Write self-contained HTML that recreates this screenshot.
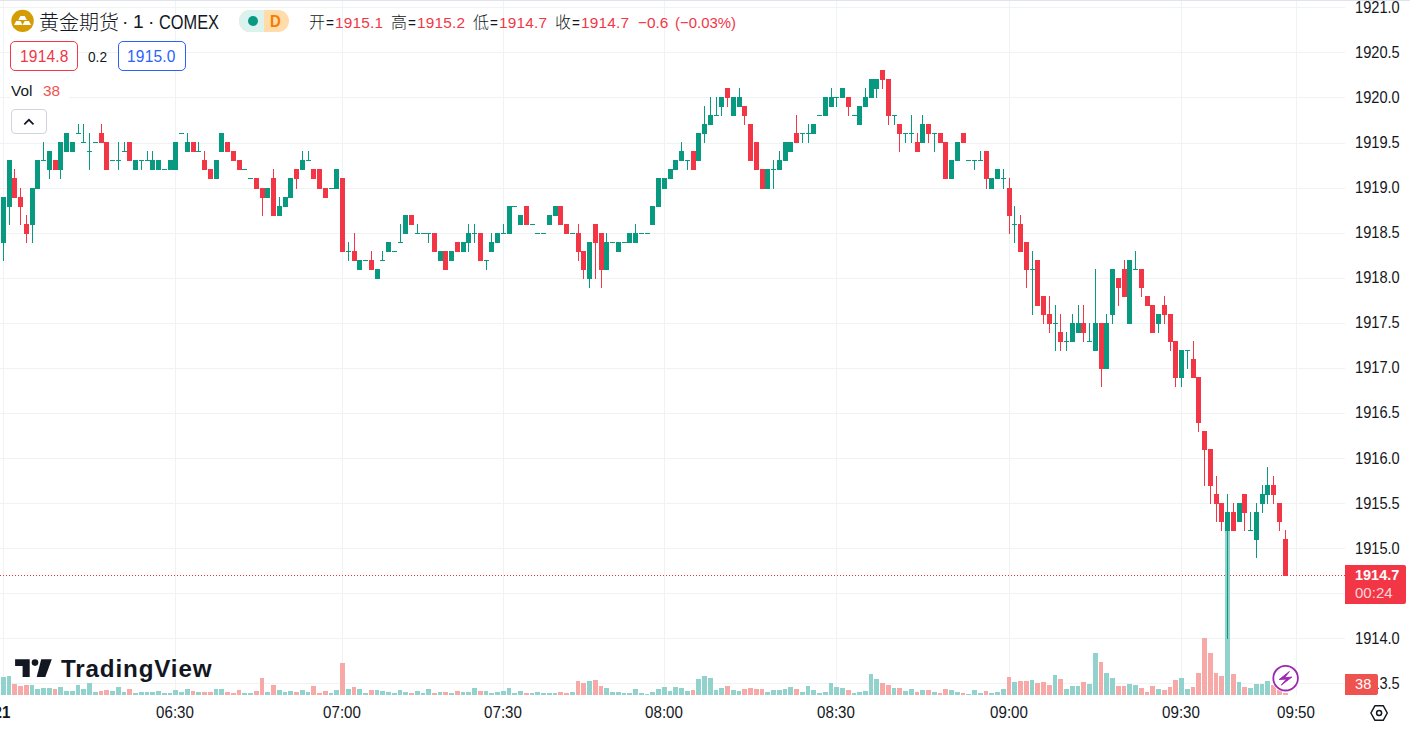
<!DOCTYPE html>
<html><head><meta charset="utf-8"><title>chart</title>
<style>
html,body{margin:0;padding:0;background:#fff;}
body{width:1410px;height:733px;position:relative;overflow:hidden;font-family:"Liberation Sans","Noto Sans CJK SC",sans-serif;color:#131722;}
.abs{position:absolute;white-space:nowrap;}
.pl{position:absolute;left:1355.2px;height:20px;line-height:20px;font-size:15.7px;transform:scaleX(0.932) rotate(0.02deg);transform-origin:0 50%;white-space:nowrap;color:#131722;}
.tl{position:absolute;top:702.9px;width:60px;text-align:center;height:20px;line-height:20px;font-size:15.7px;transform:scaleX(0.963) rotate(0.02deg);white-space:nowrap;color:#131722;}
.sx{display:inline-block;transform-origin:0 50%;}
</style></head><body>
<div class="abs" style="left:0;top:0;width:1410px;height:1px;background:#e0e3eb"></div>
<svg width="1410" height="733" viewBox="0 0 1410 733" shape-rendering="crispEdges" style="position:absolute;left:0;top:0">
<path d="M0 7.5H1345M0 52.5H1345M0 97.5H1345M0 143.5H1345M0 188.5H1345M0 233.5H1345M0 278.5H1345M0 323.5H1345M0 368.5H1345M0 413.5H1345M0 458.5H1345M0 503.5H1345M0 548.5H1345M0 593.5H1345M0 638.5H1345M0 683.5H1345M3.5 1V695M175.5 1V695M342.5 1V695M503.5 1V695M664.5 1V695M836.5 1V695M1009.5 1V695M1181.5 1V695M1296.5 1V695" stroke="#f0f3f3" stroke-width="1" fill="none"/>
<path d="M1 677h5v18h-5zM7 676h4v19h-4zM30 685h4v10h-4zM35 689h5v6h-5zM41 688h5v7h-5zM47 688h5v7h-5zM58 687h5v8h-5zM64 691h5v4h-5zM70 691h5v4h-5zM76 685h4v10h-4zM81 689h5v6h-5zM87 683h5v12h-5zM93 692h5v3h-5zM110 691h5v4h-5zM116 687h5v8h-5zM122 692h4v3h-4zM133 693h5v2h-5zM139 692h5v3h-5zM145 692h4v3h-4zM150 692h5v3h-5zM156 691h5v4h-5zM162 693h5v2h-5zM168 693h4v2h-4zM173 690h5v5h-5zM179 692h5v3h-5zM185 689h5v6h-5zM196 692h5v3h-5zM214 689h4v6h-4zM219 689h5v6h-5zM242 693h5v2h-5zM248 693h5v2h-5zM265 692h5v3h-5zM277 690h5v5h-5zM283 692h4v3h-4zM288 691h5v4h-5zM300 690h5v5h-5zM306 692h4v3h-4zM329 693h4v2h-4zM334 690h5v5h-5zM346 689h5v6h-5zM357 689h5v6h-5zM363 693h5v2h-5zM375 690h4v5h-4zM380 691h5v4h-5zM386 692h5v3h-5zM392 693h5v2h-5zM398 690h4v5h-4zM403 692h5v3h-5zM415 691h5v4h-5zM421 693h4v2h-4zM426 689h5v6h-5zM438 692h4v3h-4zM449 693h5v2h-5zM461 692h4v3h-4zM466 692h5v3h-5zM472 688h5v7h-5zM484 691h4v4h-4zM489 693h5v2h-5zM495 692h5v3h-5zM501 691h5v4h-5zM507 688h4v7h-4zM512 693h5v2h-5zM518 691h5v4h-5zM530 693h4v2h-4zM535 692h5v3h-5zM541 693h5v2h-5zM547 693h5v2h-5zM553 693h4v2h-4zM570 692h5v3h-5zM587 681h5v14h-5zM604 688h5v7h-5zM610 692h5v3h-5zM616 692h5v3h-5zM622 693h4v2h-4zM627 693h5v2h-5zM633 689h5v6h-5zM639 693h5v2h-5zM645 694h4v1h-4zM650 692h5v3h-5zM656 689h5v6h-5zM662 687h5v8h-5zM668 691h4v4h-4zM673 687h5v8h-5zM679 688h5v7h-5zM685 691h5v4h-5zM696 679h5v16h-5zM702 676h5v19h-5zM708 678h5v17h-5zM714 690h4v5h-4zM719 688h5v7h-5zM731 690h5v5h-5zM737 691h4v4h-4zM765 692h5v3h-5zM771 690h5v5h-5zM777 690h5v5h-5zM783 689h4v6h-4zM788 687h5v8h-5zM800 692h5v3h-5zM806 686h4v9h-4zM811 690h5v5h-5zM817 693h5v2h-5zM823 692h5v3h-5zM829 683h4v12h-4zM834 687h5v8h-5zM840 688h5v7h-5zM852 693h4v2h-4zM857 692h5v3h-5zM863 691h5v4h-5zM869 674h4v21h-4zM874 679h5v16h-5zM892 688h4v7h-4zM903 691h5v4h-5zM909 689h5v6h-5zM920 690h5v5h-5zM932 692h5v3h-5zM949 690h5v5h-5zM955 692h5v3h-5zM966 694h5v1h-5zM972 690h5v5h-5zM978 693h5v2h-5zM989 693h5v2h-5zM995 692h5v3h-5zM1001 689h5v6h-5zM1012 682h5v13h-5zM1030 680h4v15h-4zM1053 675h4v20h-4zM1064 689h5v6h-5zM1070 686h5v9h-5zM1076 686h4v9h-4zM1087 684h5v11h-5zM1093 653h5v42h-5zM1104 673h5v22h-5zM1110 678h5v17h-5zM1127 684h5v11h-5zM1133 685h5v10h-5zM1156 689h5v6h-5zM1179 678h5v17h-5zM1185 689h5v6h-5zM1225 525h5v170h-5zM1237 682h4v13h-4zM1248 688h5v7h-5zM1254 684h5v11h-5zM1260 684h4v11h-4zM1265 681h5v14h-5z" fill="#92d2cc"/>
<path d="M12 684h5v11h-5zM18 686h5v9h-5zM24 685h5v10h-5zM53 689h4v6h-4zM99 691h4v4h-4zM104 690h5v5h-5zM127 689h5v6h-5zM191 691h4v4h-4zM202 692h5v3h-5zM208 692h5v3h-5zM225 692h5v3h-5zM231 693h5v2h-5zM237 690h4v5h-4zM254 691h5v4h-5zM260 678h4v17h-4zM271 685h5v10h-5zM294 692h5v3h-5zM311 686h5v9h-5zM317 693h5v2h-5zM323 691h5v4h-5zM340 663h5v32h-5zM352 687h4v8h-4zM369 690h5v5h-5zM409 693h5v2h-5zM432 693h5v2h-5zM443 692h5v3h-5zM455 691h5v4h-5zM478 691h5v4h-5zM524 693h5v2h-5zM558 692h5v3h-5zM564 693h5v2h-5zM576 681h4v14h-4zM581 683h5v12h-5zM593 680h5v15h-5zM599 686h4v9h-4zM691 690h4v5h-4zM725 686h5v9h-5zM742 689h5v6h-5zM748 688h5v7h-5zM754 689h5v6h-5zM760 689h4v6h-4zM794 689h5v6h-5zM846 690h5v5h-5zM880 683h5v12h-5zM886 685h5v10h-5zM897 688h5v7h-5zM915 692h4v3h-4zM926 690h5v5h-5zM938 693h4v2h-4zM943 689h5v6h-5zM961 693h4v2h-4zM984 691h4v4h-4zM1007 677h4v18h-4zM1018 681h5v14h-5zM1024 681h5v14h-5zM1035 683h5v12h-5zM1041 682h5v13h-5zM1047 685h5v10h-5zM1058 679h5v16h-5zM1081 682h5v13h-5zM1099 662h4v33h-4zM1116 686h5v9h-5zM1122 686h4v9h-4zM1139 688h5v7h-5zM1145 692h4v3h-4zM1150 686h5v9h-5zM1162 690h5v5h-5zM1168 687h4v8h-4zM1173 680h5v15h-5zM1191 687h4v8h-4zM1196 673h5v22h-5zM1202 638h5v57h-5zM1208 653h5v42h-5zM1214 673h4v22h-4zM1219 676h5v19h-5zM1231 674h5v21h-5zM1242 687h5v8h-5zM1271 685h5v10h-5zM1277 690h5v5h-5zM1283 693h5v2h-5z" fill="#f7a9a7"/>
<path d="M0 575h1v1h-1zM3 575h1v1h-1zM6 575h1v1h-1zM9 575h1v1h-1zM12 575h1v1h-1zM15 575h1v1h-1zM18 575h1v1h-1zM21 575h1v1h-1zM24 575h1v1h-1zM27 575h1v1h-1zM30 575h1v1h-1zM33 575h1v1h-1zM36 575h1v1h-1zM39 575h1v1h-1zM42 575h1v1h-1zM45 575h1v1h-1zM48 575h1v1h-1zM51 575h1v1h-1zM54 575h1v1h-1zM57 575h1v1h-1zM60 575h1v1h-1zM63 575h1v1h-1zM66 575h1v1h-1zM69 575h1v1h-1zM72 575h1v1h-1zM75 575h1v1h-1zM78 575h1v1h-1zM81 575h1v1h-1zM84 575h1v1h-1zM87 575h1v1h-1zM90 575h1v1h-1zM93 575h1v1h-1zM96 575h1v1h-1zM99 575h1v1h-1zM102 575h1v1h-1zM105 575h1v1h-1zM108 575h1v1h-1zM111 575h1v1h-1zM114 575h1v1h-1zM117 575h1v1h-1zM120 575h1v1h-1zM123 575h1v1h-1zM126 575h1v1h-1zM129 575h1v1h-1zM132 575h1v1h-1zM135 575h1v1h-1zM138 575h1v1h-1zM141 575h1v1h-1zM144 575h1v1h-1zM147 575h1v1h-1zM150 575h1v1h-1zM153 575h1v1h-1zM156 575h1v1h-1zM159 575h1v1h-1zM162 575h1v1h-1zM165 575h1v1h-1zM168 575h1v1h-1zM171 575h1v1h-1zM174 575h1v1h-1zM177 575h1v1h-1zM180 575h1v1h-1zM183 575h1v1h-1zM186 575h1v1h-1zM189 575h1v1h-1zM192 575h1v1h-1zM195 575h1v1h-1zM198 575h1v1h-1zM201 575h1v1h-1zM204 575h1v1h-1zM207 575h1v1h-1zM210 575h1v1h-1zM213 575h1v1h-1zM216 575h1v1h-1zM219 575h1v1h-1zM222 575h1v1h-1zM225 575h1v1h-1zM228 575h1v1h-1zM231 575h1v1h-1zM234 575h1v1h-1zM237 575h1v1h-1zM240 575h1v1h-1zM243 575h1v1h-1zM246 575h1v1h-1zM249 575h1v1h-1zM252 575h1v1h-1zM255 575h1v1h-1zM258 575h1v1h-1zM261 575h1v1h-1zM264 575h1v1h-1zM267 575h1v1h-1zM270 575h1v1h-1zM273 575h1v1h-1zM276 575h1v1h-1zM279 575h1v1h-1zM282 575h1v1h-1zM285 575h1v1h-1zM288 575h1v1h-1zM291 575h1v1h-1zM294 575h1v1h-1zM297 575h1v1h-1zM300 575h1v1h-1zM303 575h1v1h-1zM306 575h1v1h-1zM309 575h1v1h-1zM312 575h1v1h-1zM315 575h1v1h-1zM318 575h1v1h-1zM321 575h1v1h-1zM324 575h1v1h-1zM327 575h1v1h-1zM330 575h1v1h-1zM333 575h1v1h-1zM336 575h1v1h-1zM339 575h1v1h-1zM342 575h1v1h-1zM345 575h1v1h-1zM348 575h1v1h-1zM351 575h1v1h-1zM354 575h1v1h-1zM357 575h1v1h-1zM360 575h1v1h-1zM363 575h1v1h-1zM366 575h1v1h-1zM369 575h1v1h-1zM372 575h1v1h-1zM375 575h1v1h-1zM378 575h1v1h-1zM381 575h1v1h-1zM384 575h1v1h-1zM387 575h1v1h-1zM390 575h1v1h-1zM393 575h1v1h-1zM396 575h1v1h-1zM399 575h1v1h-1zM402 575h1v1h-1zM405 575h1v1h-1zM408 575h1v1h-1zM411 575h1v1h-1zM414 575h1v1h-1zM417 575h1v1h-1zM420 575h1v1h-1zM423 575h1v1h-1zM426 575h1v1h-1zM429 575h1v1h-1zM432 575h1v1h-1zM435 575h1v1h-1zM438 575h1v1h-1zM441 575h1v1h-1zM444 575h1v1h-1zM447 575h1v1h-1zM450 575h1v1h-1zM453 575h1v1h-1zM456 575h1v1h-1zM459 575h1v1h-1zM462 575h1v1h-1zM465 575h1v1h-1zM468 575h1v1h-1zM471 575h1v1h-1zM474 575h1v1h-1zM477 575h1v1h-1zM480 575h1v1h-1zM483 575h1v1h-1zM486 575h1v1h-1zM489 575h1v1h-1zM492 575h1v1h-1zM495 575h1v1h-1zM498 575h1v1h-1zM501 575h1v1h-1zM504 575h1v1h-1zM507 575h1v1h-1zM510 575h1v1h-1zM513 575h1v1h-1zM516 575h1v1h-1zM519 575h1v1h-1zM522 575h1v1h-1zM525 575h1v1h-1zM528 575h1v1h-1zM531 575h1v1h-1zM534 575h1v1h-1zM537 575h1v1h-1zM540 575h1v1h-1zM543 575h1v1h-1zM546 575h1v1h-1zM549 575h1v1h-1zM552 575h1v1h-1zM555 575h1v1h-1zM558 575h1v1h-1zM561 575h1v1h-1zM564 575h1v1h-1zM567 575h1v1h-1zM570 575h1v1h-1zM573 575h1v1h-1zM576 575h1v1h-1zM579 575h1v1h-1zM582 575h1v1h-1zM585 575h1v1h-1zM588 575h1v1h-1zM591 575h1v1h-1zM594 575h1v1h-1zM597 575h1v1h-1zM600 575h1v1h-1zM603 575h1v1h-1zM606 575h1v1h-1zM609 575h1v1h-1zM612 575h1v1h-1zM615 575h1v1h-1zM618 575h1v1h-1zM621 575h1v1h-1zM624 575h1v1h-1zM627 575h1v1h-1zM630 575h1v1h-1zM633 575h1v1h-1zM636 575h1v1h-1zM639 575h1v1h-1zM642 575h1v1h-1zM645 575h1v1h-1zM648 575h1v1h-1zM651 575h1v1h-1zM654 575h1v1h-1zM657 575h1v1h-1zM660 575h1v1h-1zM663 575h1v1h-1zM666 575h1v1h-1zM669 575h1v1h-1zM672 575h1v1h-1zM675 575h1v1h-1zM678 575h1v1h-1zM681 575h1v1h-1zM684 575h1v1h-1zM687 575h1v1h-1zM690 575h1v1h-1zM693 575h1v1h-1zM696 575h1v1h-1zM699 575h1v1h-1zM702 575h1v1h-1zM705 575h1v1h-1zM708 575h1v1h-1zM711 575h1v1h-1zM714 575h1v1h-1zM717 575h1v1h-1zM720 575h1v1h-1zM723 575h1v1h-1zM726 575h1v1h-1zM729 575h1v1h-1zM732 575h1v1h-1zM735 575h1v1h-1zM738 575h1v1h-1zM741 575h1v1h-1zM744 575h1v1h-1zM747 575h1v1h-1zM750 575h1v1h-1zM753 575h1v1h-1zM756 575h1v1h-1zM759 575h1v1h-1zM762 575h1v1h-1zM765 575h1v1h-1zM768 575h1v1h-1zM771 575h1v1h-1zM774 575h1v1h-1zM777 575h1v1h-1zM780 575h1v1h-1zM783 575h1v1h-1zM786 575h1v1h-1zM789 575h1v1h-1zM792 575h1v1h-1zM795 575h1v1h-1zM798 575h1v1h-1zM801 575h1v1h-1zM804 575h1v1h-1zM807 575h1v1h-1zM810 575h1v1h-1zM813 575h1v1h-1zM816 575h1v1h-1zM819 575h1v1h-1zM822 575h1v1h-1zM825 575h1v1h-1zM828 575h1v1h-1zM831 575h1v1h-1zM834 575h1v1h-1zM837 575h1v1h-1zM840 575h1v1h-1zM843 575h1v1h-1zM846 575h1v1h-1zM849 575h1v1h-1zM852 575h1v1h-1zM855 575h1v1h-1zM858 575h1v1h-1zM861 575h1v1h-1zM864 575h1v1h-1zM867 575h1v1h-1zM870 575h1v1h-1zM873 575h1v1h-1zM876 575h1v1h-1zM879 575h1v1h-1zM882 575h1v1h-1zM885 575h1v1h-1zM888 575h1v1h-1zM891 575h1v1h-1zM894 575h1v1h-1zM897 575h1v1h-1zM900 575h1v1h-1zM903 575h1v1h-1zM906 575h1v1h-1zM909 575h1v1h-1zM912 575h1v1h-1zM915 575h1v1h-1zM918 575h1v1h-1zM921 575h1v1h-1zM924 575h1v1h-1zM927 575h1v1h-1zM930 575h1v1h-1zM933 575h1v1h-1zM936 575h1v1h-1zM939 575h1v1h-1zM942 575h1v1h-1zM945 575h1v1h-1zM948 575h1v1h-1zM951 575h1v1h-1zM954 575h1v1h-1zM957 575h1v1h-1zM960 575h1v1h-1zM963 575h1v1h-1zM966 575h1v1h-1zM969 575h1v1h-1zM972 575h1v1h-1zM975 575h1v1h-1zM978 575h1v1h-1zM981 575h1v1h-1zM984 575h1v1h-1zM987 575h1v1h-1zM990 575h1v1h-1zM993 575h1v1h-1zM996 575h1v1h-1zM999 575h1v1h-1zM1002 575h1v1h-1zM1005 575h1v1h-1zM1008 575h1v1h-1zM1011 575h1v1h-1zM1014 575h1v1h-1zM1017 575h1v1h-1zM1020 575h1v1h-1zM1023 575h1v1h-1zM1026 575h1v1h-1zM1029 575h1v1h-1zM1032 575h1v1h-1zM1035 575h1v1h-1zM1038 575h1v1h-1zM1041 575h1v1h-1zM1044 575h1v1h-1zM1047 575h1v1h-1zM1050 575h1v1h-1zM1053 575h1v1h-1zM1056 575h1v1h-1zM1059 575h1v1h-1zM1062 575h1v1h-1zM1065 575h1v1h-1zM1068 575h1v1h-1zM1071 575h1v1h-1zM1074 575h1v1h-1zM1077 575h1v1h-1zM1080 575h1v1h-1zM1083 575h1v1h-1zM1086 575h1v1h-1zM1089 575h1v1h-1zM1092 575h1v1h-1zM1095 575h1v1h-1zM1098 575h1v1h-1zM1101 575h1v1h-1zM1104 575h1v1h-1zM1107 575h1v1h-1zM1110 575h1v1h-1zM1113 575h1v1h-1zM1116 575h1v1h-1zM1119 575h1v1h-1zM1122 575h1v1h-1zM1125 575h1v1h-1zM1128 575h1v1h-1zM1131 575h1v1h-1zM1134 575h1v1h-1zM1137 575h1v1h-1zM1140 575h1v1h-1zM1143 575h1v1h-1zM1146 575h1v1h-1zM1149 575h1v1h-1zM1152 575h1v1h-1zM1155 575h1v1h-1zM1158 575h1v1h-1zM1161 575h1v1h-1zM1164 575h1v1h-1zM1167 575h1v1h-1zM1170 575h1v1h-1zM1173 575h1v1h-1zM1176 575h1v1h-1zM1179 575h1v1h-1zM1182 575h1v1h-1zM1185 575h1v1h-1zM1188 575h1v1h-1zM1191 575h1v1h-1zM1194 575h1v1h-1zM1197 575h1v1h-1zM1200 575h1v1h-1zM1203 575h1v1h-1zM1206 575h1v1h-1zM1209 575h1v1h-1zM1212 575h1v1h-1zM1215 575h1v1h-1zM1218 575h1v1h-1zM1221 575h1v1h-1zM1224 575h1v1h-1zM1227 575h1v1h-1zM1230 575h1v1h-1zM1233 575h1v1h-1zM1236 575h1v1h-1zM1239 575h1v1h-1zM1242 575h1v1h-1zM1245 575h1v1h-1zM1248 575h1v1h-1zM1251 575h1v1h-1zM1254 575h1v1h-1zM1257 575h1v1h-1zM1260 575h1v1h-1zM1263 575h1v1h-1zM1266 575h1v1h-1zM1269 575h1v1h-1zM1272 575h1v1h-1zM1275 575h1v1h-1zM1278 575h1v1h-1zM1281 575h1v1h-1zM1284 575h1v1h-1zM1287 575h1v1h-1zM1290 575h1v1h-1zM1293 575h1v1h-1zM1296 575h1v1h-1zM1299 575h1v1h-1zM1302 575h1v1h-1zM1305 575h1v1h-1zM1308 575h1v1h-1zM1311 575h1v1h-1zM1314 575h1v1h-1zM1317 575h1v1h-1zM1320 575h1v1h-1zM1323 575h1v1h-1zM1326 575h1v1h-1zM1329 575h1v1h-1zM1332 575h1v1h-1zM1335 575h1v1h-1zM1338 575h1v1h-1zM1341 575h1v1h-1zM1344 575h1v1h-1z" fill="#f23645"/>
<path d="M3 197h1v64h-1zM1 197h5v46h-5zM9 160h1v65h-1zM7 160h5v47h-5zM32 188h1v55h-1zM30 188h5v37h-5zM35 160h5v29h-5zM43 142h1v19h-1zM41 160h5v1h-5zM49 151h1v28h-1zM47 151h5v19h-5zM60 142h1v37h-1zM58 142h5v28h-5zM64 133h5v19h-5zM70 142h5v10h-5zM78 124h1v10h-1zM76 133h5v1h-5zM83 124h1v19h-1zM81 142h5v1h-5zM89 133h1v37h-1zM87 151h5v1h-5zM93 142h5v1h-5zM110 160h5v1h-5zM118 142h1v28h-1zM116 160h5v1h-5zM124 142h1v10h-1zM122 151h5v1h-5zM133 160h5v10h-5zM141 160h1v10h-1zM139 160h5v1h-5zM147 151h1v10h-1zM145 160h5v1h-5zM152 151h1v19h-1zM150 160h5v10h-5zM156 160h5v10h-5zM162 169h5v1h-5zM168 160h5v10h-5zM173 142h5v28h-5zM179 133h5v1h-5zM187 133h1v19h-1zM185 142h5v10h-5zM198 142h1v10h-1zM196 151h5v1h-5zM214 160h5v19h-5zM219 133h5v19h-5zM242 169h5v1h-5zM248 178h5v1h-5zM265 188h5v10h-5zM279 197h1v19h-1zM277 206h5v10h-5zM283 197h5v10h-5zM288 178h5v20h-5zM302 151h1v19h-1zM300 160h5v10h-5zM308 151h1v10h-1zM306 160h5v1h-5zM329 188h5v1h-5zM334 169h5v20h-5zM348 242h1v19h-1zM346 251h5v1h-5zM357 260h5v10h-5zM363 260h5v1h-5zM375 269h5v10h-5zM382 251h1v10h-1zM380 260h5v1h-5zM386 242h5v10h-5zM392 251h5v1h-5zM400 224h1v19h-1zM398 242h5v1h-5zM403 215h5v19h-5zM417 224h1v10h-1zM415 233h5v1h-5zM421 233h5v1h-5zM428 233h1v10h-1zM426 233h5v1h-5zM438 251h5v10h-5zM449 251h5v10h-5zM461 242h5v10h-5zM468 224h1v28h-1zM466 233h5v10h-5zM474 224h1v19h-1zM472 233h5v1h-5zM486 260h1v10h-1zM484 260h5v1h-5zM491 233h1v19h-1zM489 242h5v10h-5zM495 233h5v10h-5zM503 224h1v10h-1zM501 233h5v1h-5zM507 206h5v28h-5zM512 206h5v1h-5zM518 215h5v10h-5zM530 224h5v1h-5zM535 233h5v1h-5zM541 233h5v1h-5zM547 215h5v10h-5zM553 206h5v10h-5zM570 233h5v1h-5zM589 242h1v46h-1zM587 242h5v37h-5zM606 233h1v37h-1zM604 242h5v28h-5zM610 242h5v1h-5zM616 242h5v10h-5zM622 242h5v1h-5zM627 233h5v10h-5zM635 224h1v19h-1zM633 233h5v10h-5zM639 233h5v1h-5zM645 233h5v1h-5zM650 206h5v19h-5zM656 178h5v29h-5zM662 178h5v11h-5zM668 169h5v10h-5zM673 160h5v10h-5zM681 142h1v19h-1zM679 151h5v10h-5zM687 160h1v10h-1zM685 160h5v1h-5zM696 133h5v28h-5zM704 106h1v37h-1zM702 124h5v10h-5zM710 97h1v28h-1zM708 115h5v10h-5zM716 97h1v19h-1zM714 115h5v1h-5zM721 97h1v19h-1zM719 97h5v10h-5zM731 97h5v19h-5zM739 88h1v19h-1zM737 97h5v10h-5zM765 169h5v20h-5zM773 160h1v29h-1zM771 169h5v1h-5zM779 151h1v19h-1zM777 160h5v10h-5zM783 142h5v19h-5zM788 142h5v10h-5zM802 133h1v10h-1zM800 133h5v1h-5zM808 124h1v19h-1zM806 133h5v1h-5zM811 124h5v10h-5zM817 115h5v1h-5zM823 97h5v19h-5zM831 88h1v19h-1zM829 97h5v10h-5zM836 97h1v10h-1zM834 97h5v1h-5zM840 88h5v10h-5zM852 115h5v1h-5zM857 106h5v19h-5zM865 88h1v19h-1zM863 97h5v10h-5zM869 79h5v19h-5zM876 79h1v19h-1zM874 79h5v10h-5zM894 115h1v10h-1zM892 115h5v1h-5zM905 133h1v10h-1zM903 133h5v1h-5zM911 115h1v28h-1zM909 133h5v1h-5zM922 115h1v28h-1zM920 124h5v19h-5zM934 133h1v19h-1zM932 133h5v1h-5zM949 160h5v19h-5zM955 142h5v19h-5zM966 160h5v1h-5zM974 160h1v10h-1zM972 160h5v1h-5zM980 151h1v10h-1zM978 160h5v1h-5zM989 178h5v11h-5zM995 169h5v10h-5zM1003 169h1v20h-1zM1001 178h5v1h-5zM1014 206h1v37h-1zM1012 224h5v1h-5zM1032 251h1v64h-1zM1030 269h5v1h-5zM1055 305h1v46h-1zM1053 323h5v1h-5zM1066 332h1v19h-1zM1064 341h5v1h-5zM1072 314h1v28h-1zM1070 323h5v19h-5zM1078 305h1v28h-1zM1076 323h5v10h-5zM1089 323h1v19h-1zM1087 341h5v1h-5zM1095 269h1v82h-1zM1093 323h5v28h-5zM1106 314h1v55h-1zM1104 323h5v46h-5zM1112 269h1v55h-1zM1110 269h5v46h-5zM1127 260h5v64h-5zM1135 251h1v19h-1zM1133 269h5v1h-5zM1158 314h1v19h-1zM1156 314h5v10h-5zM1181 350h1v37h-1zM1179 350h5v28h-5zM1187 350h1v19h-1zM1185 350h5v1h-5zM1227 494h1v145h-1zM1225 512h5v19h-5zM1237 503h5v19h-5zM1250 512h1v19h-1zM1248 530h5v1h-5zM1256 503h1v55h-1zM1254 512h5v28h-5zM1262 485h1v28h-1zM1260 494h5v10h-5zM1267 467h1v37h-1zM1265 485h5v10h-5z" fill="#089981"/>
<path d="M14 169h1v29h-1zM12 178h5v20h-5zM20 188h1v37h-1zM18 197h5v10h-5zM26 215h1v28h-1zM24 224h5v10h-5zM53 160h5v10h-5zM101 124h1v19h-1zM99 133h5v10h-5zM104 142h5v28h-5zM127 142h5v19h-5zM191 142h5v10h-5zM204 151h1v19h-1zM202 160h5v10h-5zM208 169h5v10h-5zM225 142h5v10h-5zM231 151h5v10h-5zM237 160h5v10h-5zM254 178h5v11h-5zM262 188h1v28h-1zM260 188h5v10h-5zM273 169h1v47h-1zM271 178h5v38h-5zM296 169h1v20h-1zM294 169h5v10h-5zM311 169h5v10h-5zM317 169h5v20h-5zM323 188h5v10h-5zM340 178h5v74h-5zM354 233h1v28h-1zM352 251h5v10h-5zM371 251h1v19h-1zM369 260h5v10h-5zM409 215h5v10h-5zM432 233h5v19h-5zM443 251h5v19h-5zM455 242h5v10h-5zM478 233h5v28h-5zM524 206h5v19h-5zM558 206h5v19h-5zM564 224h5v10h-5zM578 224h1v37h-1zM576 233h5v19h-5zM583 251h1v28h-1zM581 251h5v19h-5zM595 224h1v55h-1zM593 224h5v19h-5zM601 233h1v55h-1zM599 233h5v37h-5zM691 151h5v19h-5zM727 88h1v19h-1zM725 88h5v10h-5zM744 106h1v19h-1zM742 106h5v10h-5zM748 124h5v37h-5zM754 142h5v28h-5zM760 169h5v20h-5zM796 115h1v28h-1zM794 133h5v10h-5zM848 97h1v19h-1zM846 97h5v10h-5zM882 70h1v19h-1zM880 70h5v10h-5zM888 79h1v46h-1zM886 79h5v37h-5zM899 124h1v28h-1zM897 124h5v10h-5zM917 133h1v19h-1zM915 142h5v10h-5zM928 124h1v19h-1zM926 124h5v10h-5zM938 133h5v10h-5zM943 142h5v37h-5zM961 133h5v10h-5zM986 151h1v38h-1zM984 151h5v28h-5zM1009 178h1v56h-1zM1007 188h5v28h-5zM1020 215h1v37h-1zM1018 224h5v28h-5zM1026 242h1v46h-1zM1024 242h5v28h-5zM1035 260h5v46h-5zM1043 296h1v28h-1zM1041 296h5v19h-5zM1049 296h1v37h-1zM1047 314h5v10h-5zM1060 314h1v37h-1zM1058 332h5v10h-5zM1083 305h1v37h-1zM1081 323h5v10h-5zM1101 323h1v64h-1zM1099 323h5v46h-5zM1118 278h1v28h-1zM1116 278h5v10h-5zM1124 260h1v37h-1zM1122 269h5v28h-5zM1141 269h1v28h-1zM1139 269h5v19h-5zM1145 296h5v10h-5zM1150 305h5v28h-5zM1164 296h1v28h-1zM1162 305h5v10h-5zM1170 314h1v37h-1zM1168 314h5v28h-5zM1175 341h1v46h-1zM1173 341h5v37h-5zM1193 341h1v37h-1zM1191 359h5v19h-5zM1198 377h1v55h-1zM1196 377h5v46h-5zM1204 431h1v55h-1zM1202 431h5v19h-5zM1210 449h1v55h-1zM1208 449h5v37h-5zM1216 476h1v46h-1zM1214 494h5v10h-5zM1221 503h1v28h-1zM1219 503h5v19h-5zM1233 503h1v28h-1zM1231 512h5v19h-5zM1244 494h1v37h-1zM1242 494h5v19h-5zM1273 476h1v28h-1zM1271 485h5v10h-5zM1279 503h1v28h-1zM1277 503h5v19h-5zM1285 530h1v46h-1zM1283 539h5v37h-5z" fill="#f23645"/>
</svg>
<div class="pl" style="top:-2.2px">1921.0</div><div class="pl" style="top:42.9px">1920.5</div><div class="pl" style="top:87.9px">1920.0</div><div class="pl" style="top:133.0px">1919.5</div><div class="pl" style="top:178.1px">1919.0</div><div class="pl" style="top:223.2px">1918.5</div><div class="pl" style="top:268.2px">1918.0</div><div class="pl" style="top:313.3px">1917.5</div><div class="pl" style="top:358.4px">1917.0</div><div class="pl" style="top:403.4px">1916.5</div><div class="pl" style="top:448.5px">1916.0</div><div class="pl" style="top:493.6px">1915.5</div><div class="pl" style="top:538.6px">1915.0</div><div class="pl" style="top:628.8px">1914.0</div><div class="pl" style="top:673.8px">1913.5</div>
<div class="tl" style="left:145.2px">06:30</div><div class="tl" style="left:311.9px">07:00</div><div class="tl" style="left:472.8px">07:30</div><div class="tl" style="left:633.7px">08:00</div><div class="tl" style="left:806.1px">08:30</div><div class="tl" style="left:978.5px">09:00</div><div class="tl" style="left:1150.9px">09:30</div><div class="tl" style="left:1265.8px">09:50</div>
<div class="tl" style="left:-28.5px;font-weight:bold">21</div>
<style>
.t{position:absolute;white-space:nowrap;line-height:1;}
.red{color:#f23645}.blue{color:#2962ff}
</style>
<!-- symbol icon -->
<svg class="t" style="left:10px;top:8px" width="26" height="26" viewBox="10 8 26 26">
<circle cx="22.55" cy="20.9" r="11.2" fill="#d59c03"/>
<path d="M20.4 15.9H24.7L26.8 20H18.3ZM16.2 21.1H20.4L22.55 24.9H14ZM24.7 21.1H28.9L31.1 24.9H22.55Z" fill="#fff"/>
</svg>
<!-- title -->
<div class="t" id="t_cjk" style="left:38.7px;top:12.5px;font-size:20px;font-weight:300;transform:rotate(0.02deg);transform-origin:0 0;">黄金期货</div>
<div class="t" id="t_d1" style="left:122.4px;top:12.2px;font-size:19.2px;transform:rotate(0.02deg);transform-origin:0 0;">·</div>
<div class="t" id="t_1" style="left:133.2px;top:12.2px;font-size:19.2px;transform:rotate(0.02deg);transform-origin:0 0;">1</div>
<div class="t" id="t_d2" style="left:148.3px;top:12.2px;font-size:19.2px;transform:rotate(0.02deg);transform-origin:0 0;">·</div>
<div class="t" id="t_comex" style="left:159.2px;top:11.6px;font-size:20px;transform:scaleX(0.818) rotate(0.02deg);transform-origin:0 0;">COMEX</div>
<!-- pill -->
<div class="t" style="left:239px;top:10px;width:50px;height:22px;border-radius:11px;overflow:hidden;background:#ffdcaa">
<div style="position:absolute;left:0;top:0;width:25px;height:22px;background:#dcf2ee"></div>
<div style="position:absolute;left:9px;top:6px;width:10px;height:10px;border-radius:5px;background:#089981"></div>
</div>
<div class="t" id="t_D" style="left:270px;top:13.2px;font-size:16.5px;color:#f57c00;font-weight:bold;transform:scaleX(0.9) rotate(0.02deg);transform-origin:0 0;">D</div>
<!-- OHLC -->
<div class="t" id="o1" style="font-weight:300;left:309.0px;top:14.5px;font-size:16px;transform:rotate(0.02deg);transform-origin:0 0;">开</div>
<div class="t" id="o1e" style="left:325.8px;top:14.5px;font-size:15.4px;transform:scaleX(0.88) rotate(0.02deg);transform-origin:0 0;">=</div>
<div class="t red" id="o1v" style="letter-spacing:0.2px;left:335.2px;top:14.8px;font-size:15.4px;transform:rotate(0.02deg);transform-origin:0 0;">1915.1</div>
<div class="t" id="o2" style="font-weight:300;left:391.0px;top:14.5px;font-size:16px;transform:rotate(0.02deg);transform-origin:0 0;">高</div>
<div class="t" id="o2e" style="left:407.8px;top:14.5px;font-size:15.4px;transform:scaleX(0.88) rotate(0.02deg);transform-origin:0 0;">=</div>
<div class="t red" id="o2v" style="letter-spacing:0.2px;left:417.2px;top:14.8px;font-size:15.4px;transform:rotate(0.02deg);transform-origin:0 0;">1915.2</div>
<div class="t" id="o3" style="font-weight:300;left:473.0px;top:14.5px;font-size:16px;transform:rotate(0.02deg);transform-origin:0 0;">低</div>
<div class="t" id="o3e" style="left:489.8px;top:14.5px;font-size:15.4px;transform:scaleX(0.88) rotate(0.02deg);transform-origin:0 0;">=</div>
<div class="t red" id="o3v" style="letter-spacing:0.2px;left:499.2px;top:14.8px;font-size:15.4px;transform:rotate(0.02deg);transform-origin:0 0;">1914.7</div>
<div class="t" id="o4" style="font-weight:300;left:555.0px;top:14.5px;font-size:16px;transform:rotate(0.02deg);transform-origin:0 0;">收</div>
<div class="t" id="o4e" style="left:571.8px;top:14.5px;font-size:15.4px;transform:scaleX(0.88) rotate(0.02deg);transform-origin:0 0;">=</div>
<div class="t red" id="o4v" style="letter-spacing:0.2px;left:581.2px;top:14.8px;font-size:15.4px;transform:rotate(0.02deg);transform-origin:0 0;">1914.7</div>
<div class="t red" id="o5" style="left:638.3px;top:14.8px;font-size:15.4px;transform:rotate(0.02deg);transform-origin:0 0;">−0.6</div>
<div class="t red" id="o6" style="left:675px;top:14.8px;font-size:15.4px;transform:scaleX(0.97) rotate(0.02deg);transform-origin:0 0;">(−0.03%)</div>
<!-- bid/ask -->
<div class="t" style="left:10px;top:41px;width:66px;height:28px;border:1px solid #f23645;border-radius:5px;background:#fff;"></div>
<div class="t red" id="b1" style="letter-spacing:0.2px;left:20.3px;top:49.2px;font-size:16px;transform:scaleX(0.97) rotate(0.02deg);transform-origin:0 0;">1914.8</div>
<div class="t" id="b2" style="left:88px;top:49.9px;font-size:14.7px;transform:scaleX(0.93) rotate(0.02deg);transform-origin:0 0;">0.2</div>
<div class="t" style="left:118px;top:41px;width:66px;height:28px;border:1px solid #2962ff;border-radius:5px;background:#fff;"></div>
<div class="t blue" id="b3" style="letter-spacing:0.2px;left:127.4px;top:49.2px;font-size:16px;transform:scaleX(0.97) rotate(0.02deg);transform-origin:0 0;">1915.0</div>
<!-- vol legend -->
<div class="t" style="left:10.5px;top:80px;width:58px;height:22px;background:#fff"></div>
<div class="t" id="v1" style="left:11.3px;top:83.4px;font-size:15.4px;transform:rotate(0.02deg);transform-origin:0 0;">Vol</div>
<div class="t" id="v2" style="left:43px;top:83.4px;font-size:15.4px;color:#ef5350;transform:rotate(0.02deg);transform-origin:0 0;">38</div>
<!-- collapse button -->
<div class="t" style="left:11px;top:109px;width:34px;height:23px;border:1px solid #d1d4dc;border-radius:4px;background:#fff"></div>
<svg class="t" style="left:21px;top:115px" width="16" height="14" viewBox="21 115 16 14"><path d="M24.3 124.3L28.9 119.8L33.5 124.3" fill="none" stroke="#131722" stroke-width="1.7"/></svg>
<!-- price label -->
<div class="t" style="left:1345px;top:565px;width:61px;height:39px;background:#f23645;border-radius:0 2px 2px 0"></div>
<div class="t" id="p1" style="left:1355.3px;top:567.2px;font-size:15.4px;font-weight:bold;color:#fff;transform:scaleX(0.94) rotate(0.02deg);transform-origin:0 0;">1914.7</div>
<div class="t" id="p2" style="left:1354.8px;top:585.1px;transform:scaleX(0.99) rotate(0.02deg);transform-origin:0 0;font-size:15.2px;color:rgba(255,255,255,0.8);">00:24</div>
<div class="t" style="left:1345px;top:674px;width:33px;height:21px;background:#ef5350;border-radius:0 2px 2px 0"></div>
<div class="t" id="p3" style="left:1354.7px;top:675.9px;font-size:15.4px;color:#fff;transform:scaleX(0.95) rotate(0.02deg);transform-origin:0 0;">38</div>
<!-- lightning -->
<svg class="t" style="left:1269px;top:662px" width="34" height="34" viewBox="1269 662 34 34">
<circle cx="1285.6" cy="678.2" r="14" fill="#fff"/>
<circle cx="1285.6" cy="678.2" r="12.3" fill="#fff" stroke="#9c27b0" stroke-width="1.8"/>
<path d="M1289.4 671.5L1279.2 679.5L1286.4 679.1L1281.3 685.1L1291.9 677.1L1284.5 677.7Z" fill="#9c27b0" stroke="#9c27b0" stroke-width="0.9" stroke-linejoin="round"/>
</svg>
<!-- settings hex -->
<svg class="t" style="left:1367px;top:702px" width="24" height="22" viewBox="1367 702 24 22">
<path d="M1370.9 713L1375 705.7H1383.2L1387.3 713L1383.2 720.3H1375Z" fill="none" stroke="#131722" stroke-width="1.5" stroke-linejoin="round"/>
<circle cx="1379.1" cy="713" r="2.5" fill="none" stroke="#131722" stroke-width="1.5"/>
</svg>
<!-- logo -->
<svg class="t" style="left:10px;top:654px" width="210" height="30" viewBox="10 654 210 30">
<g stroke="#fff" stroke-width="3" stroke-linejoin="round" fill="#fff">
<path d="M15.1 659.2H29.7V676.9H22.6V665.9H15.1Z"/><circle cx="35" cy="662.6" r="3.3"/><path d="M41.2 659.2H51.8L45.3 676.9H36.7Z"/>
</g>
<g fill="#131722">
<path d="M15.1 659.2H29.7V676.9H22.6V665.9H15.1Z"/><circle cx="35" cy="662.6" r="3.3"/><path d="M41.2 659.2H51.8L45.3 676.9H36.7Z"/>
</g>
<text id="logo_t" x="61" y="676.9" font-family="Liberation Sans, sans-serif" font-weight="bold" font-size="24.2" letter-spacing="0.85" fill="#131722" stroke="#fff" stroke-width="3" stroke-linejoin="round" paint-order="stroke">TradingView</text>
</svg>

</body></html>
